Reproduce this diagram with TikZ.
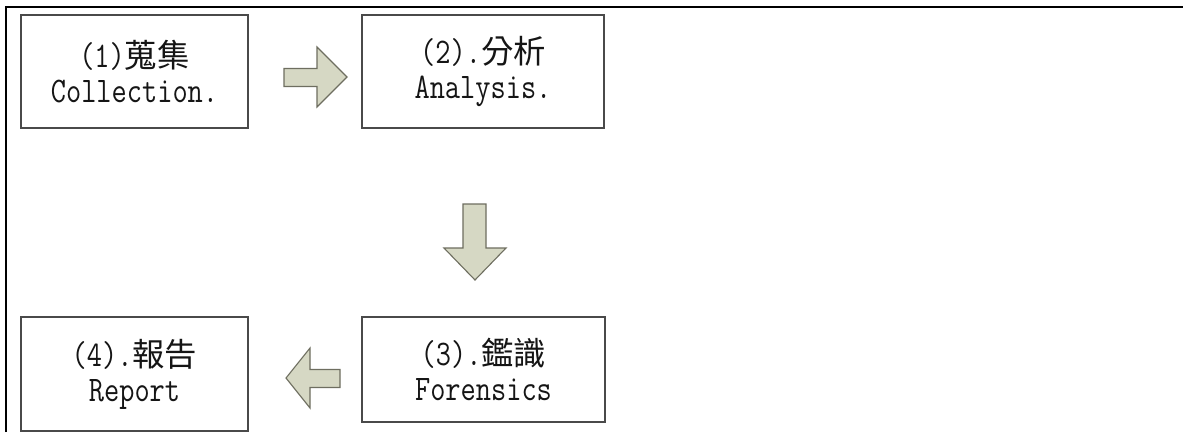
\documentclass[tikz,border=0pt]{standalone}
\usepackage{fontspec}
\newfontfamily\cjk{Noto Sans CJK TC}[Scale=0.9]
\newfontfamily\boxmono{Latin Modern Mono}[FakeStretch=0.82]
\definecolor{boxline}{HTML}{4A4A4A}
\definecolor{arrowfill}{HTML}{D6D8C4}
\definecolor{arrowline}{HTML}{6E6E60}
\definecolor{txt}{HTML}{151515}
\tikzset{
  stepbox/.style={draw=boxline, line width=1.6pt, fill=white, align=center,
    text=txt, inner sep=0pt,
    font=\boxmono\fontsize{36}{35}\selectfont},
  blockarrow/.style={draw=arrowline, fill=arrowfill, line width=1.1pt, line join=miter},
  frameline/.style={draw=black, line width=2.2pt}
}
\begin{document}
\begin{tikzpicture}[x=1pt,y=-1pt]
\useasboundingbox (0,0) rectangle (1183,432);
\fill[white] (0,0) rectangle (1183,432);
% outer frame
\coordinate (fl) at (5.7,432);
\coordinate (fc) at (5.7,7);
\coordinate (fr) at (1183,7);
\draw[frameline] (fl) -- (fc) -- (fr);
% boxes
\node[stepbox, minimum width=227pt, minimum height=113pt] (b1) at (134.5,71.5)
  {(1){\cjk 蒐集}\\Collection.};
\node[stepbox, minimum width=242pt, minimum height=113pt] (b2) at (483,71.5)
  {(2).{\cjk 分析}\\Analysis.};
\node[stepbox, minimum width=243pt, minimum height=105pt] (b3) at (483.5,369.5)
  {(3).{\cjk 鑑識}\\Forensics};
\node[stepbox, minimum width=227pt, minimum height=114pt] (b4) at (134.5,374)
  {(4).{\cjk 報告}\\Report};
% block arrows
\draw[blockarrow] (284,68.5) -- (317,68.5) -- (317,47) -- (347,77) -- (317,107)
  -- (317,86.5) -- (284,86.5) -- cycle;
\draw[blockarrow] (463,204) -- (486,204) -- (486,248) -- (506,248) -- (475,280)
  -- (444,248) -- (463,248) -- cycle;
\draw[blockarrow] (340,369.5) -- (310,369.5) -- (310,348) -- (286,378) -- (310,408)
  -- (310,387.5) -- (340,387.5) -- cycle;
\end{tikzpicture}
\end{document}
